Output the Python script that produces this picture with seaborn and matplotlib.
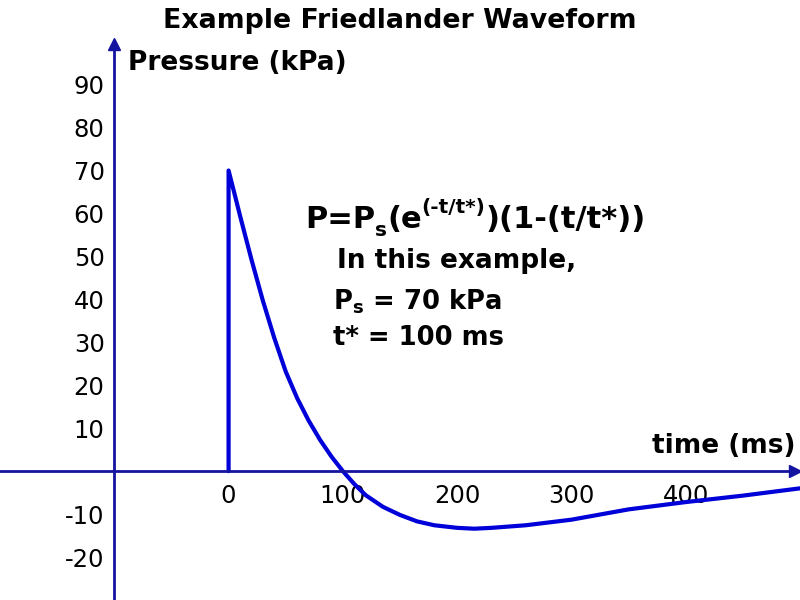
import numpy as np
import pandas as pd
import matplotlib
matplotlib.use("Agg")
import matplotlib.pyplot as plt
import seaborn as sns

# valori (tempo in ms, pressione in kPa)
tempo = [0, 0, 5, 10, 20, 30, 40, 50, 60, 70, 80, 90, 100, 110, 120, 135, 150, 165,
         180, 200, 215, 230, 260, 300, 350, 400, 450, 500]
pressione = [0, 70, 64.8, 59.5, 49.3, 39.7, 31.0, 23.2, 17.0, 11.8, 7.3, 3.4, 0, -3.0,
             -5.6, -8.3, -10.2, -11.7, -12.6, -13.2, -13.4, -13.2, -12.6, -11.3, -8.9,
             -7.2, -5.7, -4.0]
xticks = [0, 100, 200, 300, 400]
yticks = [-20, -10, 10, 20, 30, 40, 50, 60, 70, 80, 90]

df = pd.DataFrame({"t": tempo, "P": pressione})

sns.set_style("white")
plt.rcParams['font.family'] = ['DejaVu Sans']
plt.rcParams['mathtext.fontset'] = 'dejavusans'
plt.rcParams['text.color'] = 'black'
plt.rcParams['axes.unicode_minus'] = False

asse = "#1414a0"
curva = "#0000d8"

fig = plt.figure(figsize=(8, 6), dpi=100)
ax = fig.add_axes([0, 0, 1, 1])

sns.lineplot(data=df, x="t", y="P", sort=False, estimator=None, color=curva,
             linewidth=3, ax=ax)

ax.set_xlim(-200, 500)
ax.set_ylim(-30, 109.7)

# assi a croce con frecce
ax.spines['top'].set_visible(False)
ax.spines['right'].set_visible(False)
ax.spines['left'].set_position(('data', -100))
ax.spines['bottom'].set_position(('data', 0))
ax.spines['left'].set_bounds(-30, 99)
ax.spines['bottom'].set_bounds(-200, 495)
for s in ['left', 'bottom']:
    ax.spines[s].set_color(asse)
    ax.spines[s].set_linewidth(2)
ax.plot([-100], [99.5], marker='^', color=asse, markersize=8, clip_on=False)
ax.plot([496], [0], marker='>', color=asse, markersize=8, clip_on=False)

ax.set_xticks(xticks)
ax.set_yticks(yticks)
ax.tick_params(axis='both', direction='inout', length=8, width=1, color=asse,
               labelsize=17.5, labelcolor='black')
ax.tick_params(axis='y', pad=3)
ax.tick_params(axis='x', pad=5)
ax.set_xlabel("")
ax.set_ylabel("")
ax.grid(False)

# testi
fig.text(0.5, 0.965, "Example Friedlander Waveform", ha='center', va='center',
         fontsize=19.3, fontweight='bold')
fig.text(0.16, 0.895, "Pressure (kPa)", ha='left', va='center',
         fontsize=19, fontweight='bold')
fig.text(0.994, 0.257, "time (ms)", ha='right', va='center',
         fontsize=19, fontweight='bold')

# formula composta a pezzi (pedice e apice)
grande, piccolo = 22, 14.5
pezzi = [("P=P", grande, 0), ("s", piccolo, -4), ("(e", grande, 0),
         ("(-t/t*)", piccolo, 12), (")(1-(t/t*))", grande, 0)]
base = fig.text(0.381, 0.62, pezzi[0][0], ha='left', va='baseline',
                fontsize=pezzi[0][1], fontweight='bold')
prec = base
for testo, dim, dy in pezzi[1:]:
    prec = ax.annotate(testo, xy=(1, 0), xycoords=(prec, base), xytext=(0, dy),
                       textcoords='offset points', ha='left', va='bottom',
                       fontsize=dim, fontweight='bold')

fig.text(0.421, 0.565, "In this example,", ha='left', va='center',
         fontsize=19, fontweight='bold')
fig.text(0.416, 0.497, r"$\mathbf{P_s}$ = 70 kPa", ha='left', va='center',
         fontsize=18.6, fontweight='bold')
fig.text(0.416, 0.437, "t* = 100 ms", ha='left', va='center',
         fontsize=18.6, fontweight='bold')

fig.savefig("out.png", dpi=100)
